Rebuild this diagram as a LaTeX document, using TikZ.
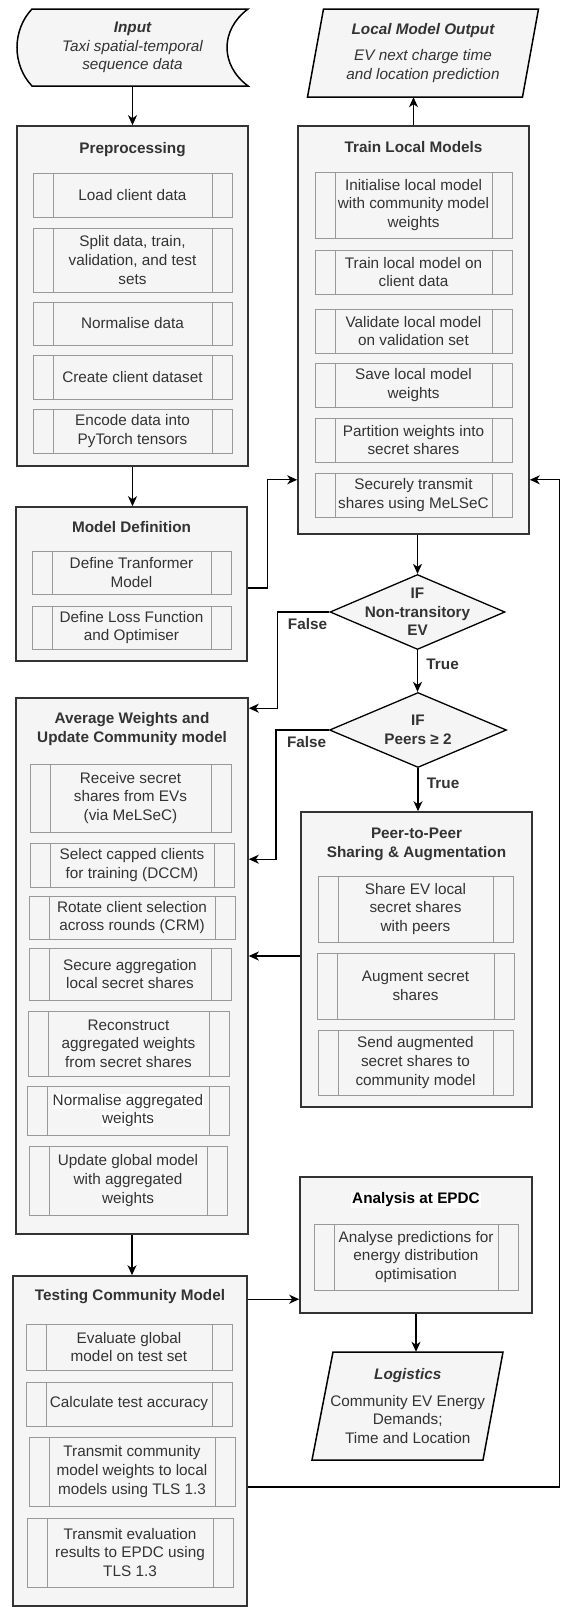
\documentclass[tikz,border=0pt]{standalone}
\usepackage{fontspec}
\setmainfont{Liberation Sans}
\usetikzlibrary{shapes.geometric,arrows.meta,calc}

\definecolor{boxfill}{HTML}{F5F5F5}
\definecolor{boxline}{HTML}{333333}
\definecolor{subline}{HTML}{999999}
\definecolor{txt}{HTML}{333333}

\newcommand\fs{\fontsize{15.3pt}{18.7pt}\selectfont}
\newcommand\whitebg[1]{{\setlength\fboxsep{0.5pt}\colorbox{white}{#1}}}

\tikzset{
    group/.style={draw=boxline, line width=1.6pt, fill=boxfill, inner sep=0pt},
    ttl/.style={font=\fs\bfseries, text=txt, align=center, inner sep=1pt},
    proc/.style={draw=subline, line width=0.8pt, fill=boxfill, text=txt, align=center,
        inner sep=0pt, minimum width=199pt, minimum height=44pt,
        path picture={
            \draw[subline, line width=0.8pt]
                ([xshift=20pt]path picture bounding box.north west) -- ([xshift=20pt]path picture bounding box.south west)
                ([xshift=-20pt]path picture bounding box.north east) -- ([xshift=-20pt]path picture bounding box.south east);
        }},
    dec/.style={diamond, draw=black, line width=1.3pt, fill=boxfill, inner sep=0pt},
    ioline/.style={draw=black, line width=1.5pt, fill=boxfill, line join=miter},
    iotext/.style={font=\fs\itshape, text=txt, align=center, inner sep=0pt},
    lbl/.style={font=\fs\bfseries, text=txt},
    arr/.style={draw=black, line width=1.3pt, -{Stealth[length=10pt, width=9pt, inset=3pt]}},
}

\begin{document}
\begin{tikzpicture}[x=1pt, y=-1pt, font=\fs]
    \fill[white] (0,0) rectangle (560,1607);
    \useasboundingbox (0,0) rectangle (560,1607);

    % input / output shapes
    \draw[ioline] (32,9) -- (248,9) .. controls (220,30) and (220,65) .. (248,86) -- (32,86) .. controls (12,65) and (12,30) .. (32,9) -- cycle;
    \node[iotext, minimum width=231pt, minimum height=77pt] (input) at (132.5,47.5) {\textbf{Input}\\Taxi spatial-temporal\\sequence data};

    \draw[ioline] (323.5,9) -- (538.5,9) -- (522.5,97) -- (307.5,97) -- cycle;
    \node[iotext, minimum width=215pt, minimum height=88pt] (lmo) at (423,53) {\textbf{Local Model Output}\\[8pt]EV next charge time\\and location prediction};

    \draw[ioline] (333,1352) -- (503,1352) -- (483,1460) -- (312,1460) -- cycle;
    \node[iotext, font=\fs, minimum width=170pt, minimum height=108pt] (logi) at (407.75,1406) {\textbf{\textit{Logistics}}\\[8pt]Community EV Energy\\Demands;\\Time and Location};

    % preprocessing
    \node[group, minimum width=231pt, minimum height=340pt] (pre) at (132.5,296) {};
    \node[ttl] (pret) at (132.5,150) {Preprocessing};
    \node[proc] (pre1) at (132.5,195) {Load client data};
    \node[proc, minimum height=64pt] (pre2) at (132.5,260) {Split data, train,\\validation, and test\\sets};
    \node[proc, minimum height=43pt] (pre3) at (132.5,323.5) {Normalise data};
    \node[proc] (pre4) at (132.5,377) {Create client dataset};
    \node[proc] (pre5) at (132.5,431) {Encode data into\\PyTorch tensors};

    % model definition
    \node[group, minimum width=231pt, minimum height=154pt] (mdef) at (131.5,584) {};
    \node[ttl] (mdeft) at (131.5,527) {Model Definition};
    \node[proc, minimum height=43pt] (md1) at (131.5,572.5) {Define Tranformer\\Model};
    \node[proc, minimum height=43pt] (md2) at (131.5,627.5) {Define Loss Function\\and Optimiser};

    % train local models
    \node[group, minimum width=231pt, minimum height=408pt] (train) at (413.5,330) {};
    \node[ttl] (traint) at (413.5,147) {Train Local Models};
    \node[proc, minimum width=197pt, minimum height=66pt] (tr1) at (413.5,205) {Initialise local model\\with community model\\weights};
    \node[proc, minimum width=197pt] (tr2) at (413.5,272) {Train local model on\\client data};
    \node[proc, minimum width=197pt] (tr3) at (413.5,331) {Validate local model\\on validation set};
    \node[proc, minimum width=197pt] (tr4) at (413.5,385) {Save local model\\weights};
    \node[proc, minimum width=197pt] (tr5) at (413.5,440) {Partition weights into\\secret shares};
    \node[proc, minimum width=197pt] (tr6) at (413.5,495) {Securely transmit\\shares using MeLSeC};

    % average weights
    \node[group, minimum width=232pt, minimum height=536pt] (avg) at (132,966) {};
    \node[ttl] (avgt) at (132,729) {Average Weights and\\Update Community model};
    \node[proc, minimum width=201pt, minimum height=68pt] (av1) at (130.5,798) {Receive secret\\shares from EVs\\(via MeLSeC)};
    \node[proc, minimum width=204pt] (av2) at (132,865) {Select capped clients\\for training (DCCM)};
    \node[proc, minimum width=206pt, minimum height=43pt] (av3) at (132,917.5) {Rotate client selection\\across rounds (CRM)};
    \node[proc, minimum width=202pt, minimum height=52pt] (av4) at (130,974) {Secure aggregation\\local secret shares};
    \node[proc, minimum width=201pt, minimum height=65pt] (av5) at (128.5,1043.5) {Reconstruct\\aggregated weights\\from secret shares};
    \node[proc, minimum width=202pt, minimum height=49pt] (av6) at (128,1110.5) {\whitebg{Normalise aggregated}\\\whitebg{weights}};
    \node[proc, minimum width=198pt, minimum height=69pt] (av7) at (128,1180.5) {Update global model\\with aggregated\\weights};

    % peer-to-peer
    \node[group, minimum width=231pt, minimum height=295pt] (peer) at (416.5,959.5) {};
    \node[ttl] (peert) at (416.5,844) {Peer-to-Peer\\Sharing \& Augmentation};
    \node[proc, minimum width=195pt, minimum height=66pt] (pe1) at (415.5,909) {Share EV local\\secret shares\\with peers};
    \node[proc, minimum width=197pt, minimum height=66pt] (pe2) at (415.5,986) {Augment secret\\shares};
    \node[proc, minimum width=195pt, minimum height=65pt] (pe3) at (415.5,1062.5) {Send augmented\\secret shares to\\community model};

    % testing
    \node[group, minimum width=234pt, minimum height=330pt] (test) at (130,1441) {};
    \node[ttl] (testt) at (130,1297) {Testing Community Model};
    \node[proc, minimum width=206pt, minimum height=46pt] (te1) at (129,1347) {Evaluate global\\model on test set};
    \node[proc, minimum width=206pt] (te2) at (129,1404) {Calculate test accuracy};
    \node[proc, minimum width=206pt, minimum height=69pt] (te3) at (132,1471.5) {Transmit community\\model weights to local\\models using TLS 1.3};
    \node[proc, minimum width=206pt, minimum height=69pt] (te4) at (130,1552.5) {Transmit evaluation\\results to EPDC using\\TLS 1.3};

    % analysis
    \node[group, minimum width=232pt, minimum height=136pt] (ana) at (416,1245) {};
    \node[ttl, fill=white, text=black] (anat) at (416,1200) {Analysis at EPDC};
    \node[proc, minimum width=204pt, minimum height=66pt] (an1) at (416,1257) {Analyse predictions for\\energy distribution\\optimisation};

    % decisions
    \node[dec, minimum width=175pt, minimum height=75pt] (d1) at (417.5,612) {};
    \node[ttl] (d1t) at (d1) {IF\\Non-transitory\\EV};
    \node[dec, minimum width=177pt, minimum height=75pt] (d2) at (418,730) {};
    \node[ttl] (d2t) at (d2) {IF\\Peers ≥ 2};

    % connectors
    \draw[arr] (input.south) -- (input.south |- pre.north);
    \draw[arr] (pre.south) -- (pre.south |- mdef.north);
    \coordinate (mdefout) at ($(mdef.east)+(0,4)$);
    \coordinate (trainin) at ($(train.south west)+(0,-55)$);
    \draw[arr] (mdefout) -- ++(20,0) |- (trainin);
    \draw[arr] (train.north) -- (train.north |- lmo.south);
    \draw[arr] (train.south -| d1.north) -- (d1.north);
    \coordinate (avgin1) at ($(avg.north east)+(0,11)$);
    \draw[arr] (d1.west) -- ++(-52,0) node[lbl, below, pos=0.42, yshift=-2pt] (f1) {False} |- (avgin1);
    \draw[arr] (d1.south) -- node[lbl, right, pos=0.35, xshift=5pt] (t1) {True} (d1.south |- d2.north);
    \coordinate (avgin2) at ($(avg.north east)+(0,162)$);
    \draw[arr] (d2.west) -- ++(-53,0) node[lbl, below, pos=0.42, yshift=-2pt] (f2) {False} |- (avgin2);
    \draw[arr] (d2.south) -- node[lbl, right, pos=0.35, xshift=5pt] (t2) {True} (d2.south |- peer.north);
    \coordinate (peerout) at ($(peer.west)+(0,-3.5)$);
    \draw[arr] (peerout) -- (peerout -| avg.east);
    \draw[arr] (avg.south) -- (avg.south |- test.north);
    \coordinate (testana) at ($(test.north east)+(0,24)$);
    \draw[arr] (testana) -- (testana -| ana.west);
    \draw[arr] (ana.south) -- (ana.south |- logi.north);
    \coordinate (testout) at ($(test.east)+(0,46)$);
    \coordinate (trainback) at ($(train.south east)+(0,-55)$);
    \draw[arr] (testout) -- ++(312,0) |- (trainback);
\end{tikzpicture}
\end{document}
